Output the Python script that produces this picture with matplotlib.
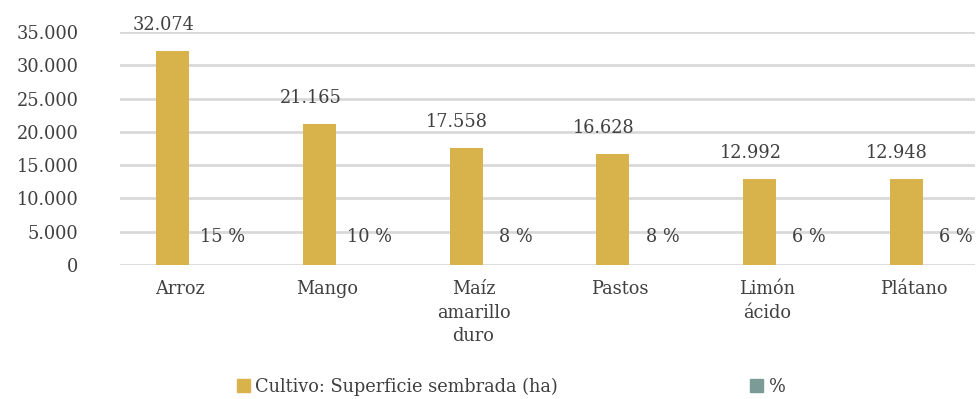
import numpy as np
import matplotlib.pyplot as plt
from matplotlib.patches import Patch

cultivos = ["Arroz", "Mango", "Maíz\namarillo\nduro", "Pastos", "Limón\nácido", "Plátano"]
superficie = [32074, 21165, 17558, 16628, 12992, 12948]
porcentaje = [15, 10, 8, 8, 6, 6]

gold = "#D8B24A"
teal = "#7B9B97"
txt = "#404040"
plt.rcParams["font.family"] = ["DejaVu Serif"]
fs = 12.8

fig = plt.figure(figsize=(9.77, 3.99), dpi=100)
ax = fig.add_axes([120 / 977, 134 / 399, 855 / 977, 233 / 399])

x = np.arange(len(cultivos))
w = 0.225
ax.bar(x - 0.14, superficie, w, color=gold, zorder=3)
ax.bar(x + 0.14, porcentaje, w, color=teal, zorder=3)

for xi, v in zip(x, superficie):
    s = f"{v:,}".replace(",", ".")
    ax.annotate(s, (xi - 0.2, v), xytext=(0, 17), textcoords="offset pixels",
                ha="center", va="bottom", color=txt, fontsize=fs)
for xi, v in zip(x, porcentaje):
    ax.annotate(f"{v} %", (xi + 0.2, v), xytext=(0, 28), textcoords="offset pixels",
                ha="center", va="center", color=txt, fontsize=fs)

ax.set_ylim(0, 35000)
ax.set_xlim(-0.5, 5.33)
ax.set_yticks(np.arange(0, 35001, 5000))
ax.set_yticklabels([f"{t:,}".replace(",", ".") for t in range(0, 35001, 5000)])
ax.set_xticks(x - 0.09)
ax.set_xticklabels(cultivos, linespacing=1.4, va="top")
ax.tick_params(axis="both", length=0, colors=txt, labelsize=fs)
ax.tick_params(axis="y", pad=30)
ax.tick_params(axis="x", pad=11)
ax.grid(axis="y", color="#D9D9D9", linewidth=2, zorder=0)
for sp in ax.spines.values():
    sp.set_visible(False)

handles = [Patch(color=gold), Patch(color=teal)]
fig.legend(handles, ["Cultivo: Superficie sembrada (ha)", "%"], loc="center",
           bbox_to_anchor=(511 / 977, 12 / 399), ncol=2, frameon=False,
           handlelength=0.75, handleheight=0.75, handletextpad=0.3,
           columnspacing=10.8, labelcolor=txt, fontsize=fs)

fig.savefig("out.png", dpi=100)
